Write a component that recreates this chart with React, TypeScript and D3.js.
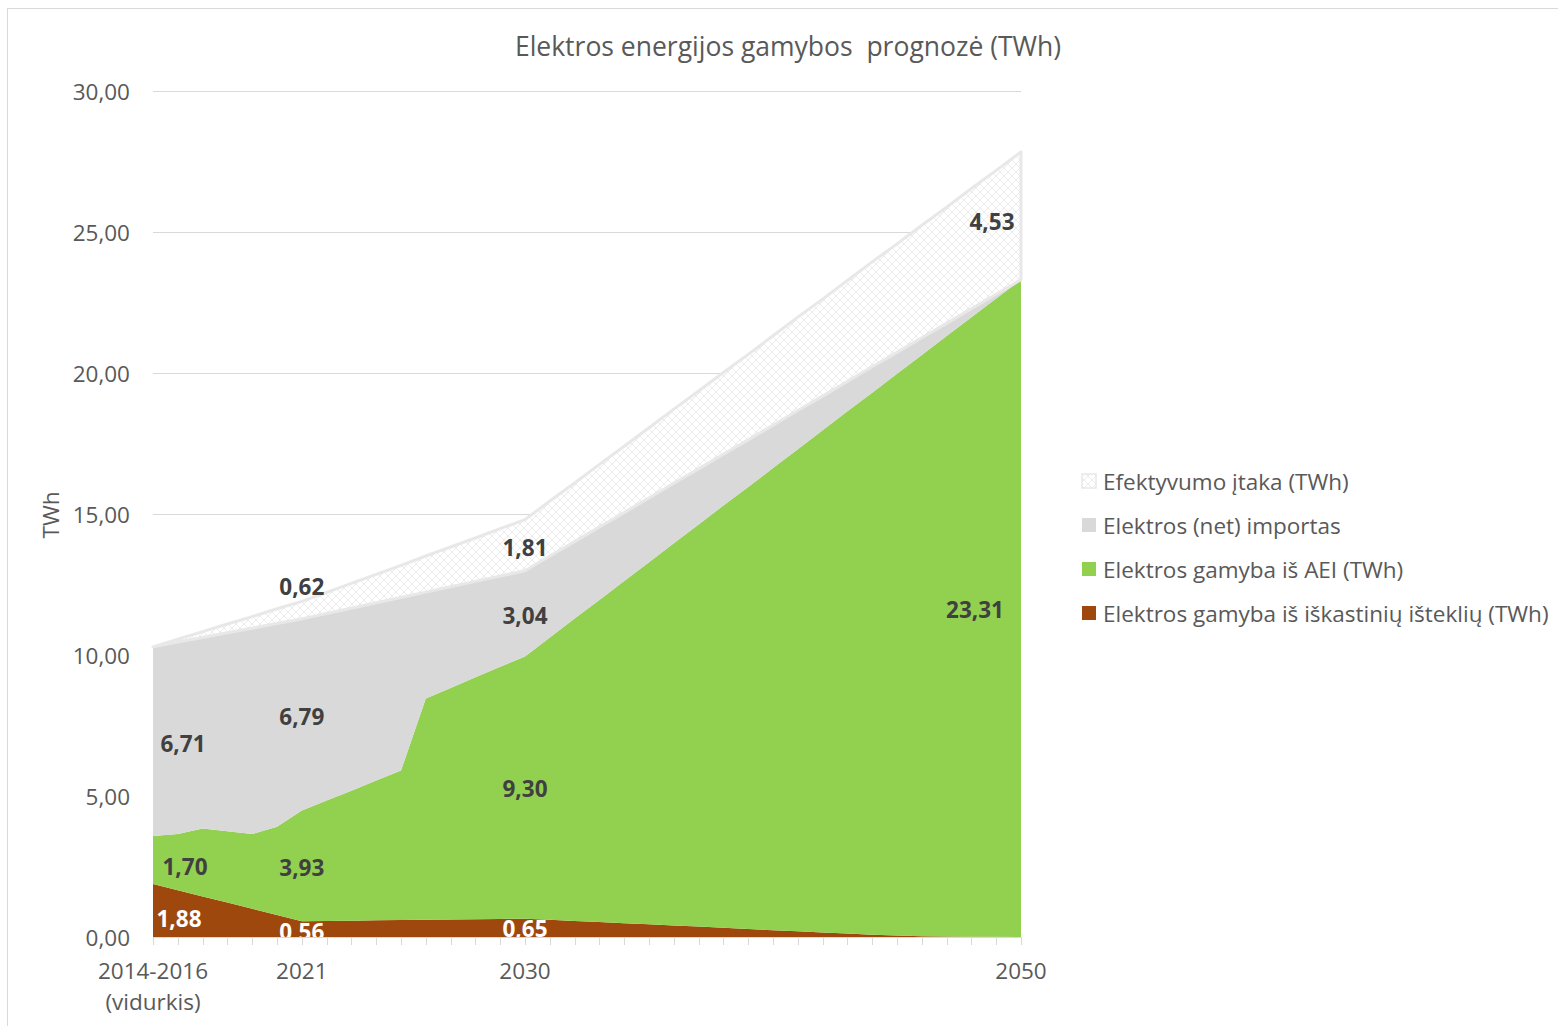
import React from "react";
import * as d3 from "d3";

// ---------- DATA ----------
const years: number[] = d3.range(2015, 2051);
const xTickLabels: { index: number; lines: string[] }[] = [
  { index: 0, lines: ["2014-2016", "(vidurkis)"] },
  { index: 6, lines: ["2021"] },
  { index: 15, lines: ["2030"] },
  { index: 35, lines: ["2050"] },
];

const fossil: number[] = [
  1.88, 1.66, 1.44, 1.22, 1.0, 0.78, 0.56, 0.57, 0.58, 0.59, 0.6, 0.61, 0.62, 0.63, 0.64, 0.65,
  0.61, 0.57, 0.53, 0.49, 0.45, 0.41, 0.37, 0.33, 0.28, 0.24, 0.2, 0.16, 0.12, 0.08, 0.05, 0.03,
  0.02, 0.01, 0.005, 0,
];
const renewable: number[] = [
  1.7, 1.99, 2.41, 2.53, 2.65, 3.13, 3.93, 4.27, 4.61, 4.96, 5.3, 7.85, 8.21, 8.58, 8.94, 9.3,
  10.01, 10.72, 11.42, 12.13, 12.84, 13.55, 14.26, 14.97, 15.68, 16.39, 17.1, 17.81, 18.52,
  19.22, 19.92, 20.61, 21.29, 21.97, 22.64, 23.31,
];
const imports: number[] = [
  6.71, 6.81, 6.77, 7.04, 7.3, 7.21, 6.79, 6.63, 6.47, 6.3, 6.14, 3.77, 3.59, 3.4, 3.22, 3.04,
  2.89, 2.73, 2.59, 2.43, 2.28, 2.13, 1.97, 1.82, 1.67, 1.52, 1.37, 1.21, 1.06, 0.92, 0.76,
  0.61, 0.45, 0.3, 0.15, 0,
];
const efficiency: number[] = [
  0, 0.1, 0.21, 0.31, 0.41, 0.52, 0.62, 0.75, 0.88, 1.01, 1.14, 1.28, 1.41, 1.54, 1.68, 1.81,
  1.95, 2.08, 2.22, 2.35, 2.49, 2.63, 2.76, 2.9, 3.03, 3.17, 3.31, 3.44, 3.58, 3.72, 3.85, 3.99,
  4.12, 4.26, 4.39, 4.53,
];

const seriesKeys = ["fossil", "renewable", "imports", "efficiency"] as const;
const seriesNames: Record<string, string> = {
  efficiency: "Efektyvumo įtaka (TWh)",
  imports: "Elektros (net) importas",
  renewable: "Elektros gamyba iš AEI (TWh)",
  fossil: "Elektros gamyba iš iškastinių išteklių (TWh)",
};
const legendOrder = ["efficiency", "imports", "renewable", "fossil"];
const yTicks: number[] = [0, 5, 10, 15, 20, 25, 30];
const labelIndices: number[] = [0, 6, 15, 35];

// ---------- STYLE ----------
const colors: Record<string, string> = {
  fossil: "#9e480e",
  renewable: "#92d050",
  imports: "#d9d9d9",
  efficiency: "url(#effPattern)",
};
const labelColors: Record<string, string> = {
  fossil: "#ffffff",
  renewable: "#404040",
  imports: "#404040",
  efficiency: "#404040",
};
// label nudges (px) per series / index
const labelNudge: Record<string, { dx: number; dy: number }> = {
  "fossil-0": { dx: 26, dy: 8 },
  "renewable-0": { dx: 32, dy: 6 },
  "imports-0": { dx: 30, dy: 2 },
  "fossil-6": { dx: 0, dy: 2 },
  "renewable-6": { dx: 0, dy: 2 },
  "imports-6": { dx: 0, dy: 2 },
  "efficiency-6": { dx: 0, dy: -24 },
  "fossil-15": { dx: 0, dy: 1 },
  "renewable-15": { dx: 0, dy: 1 },
  "imports-15": { dx: 0, dy: 2 },
  "efficiency-15": { dx: 0, dy: 2 },
  "renewable-35": { dx: -46, dy: 1 },
  "efficiency-35": { dx: -29, dy: 6 },
};

const W = 1558;
const H = 1026;
const FONT = "'Open Sans', 'Noto Sans', sans-serif";
const FS = 22.5;

export default function App() {
  const plotLeft = 153;
  const plotRight = 1021;
  const plotTop = 91;
  const plotBottom = 937;

  const x = d3.scalePoint<number>().domain(d3.range(years.length)).range([plotLeft, plotRight]);
  const y = d3.scaleLinear().domain([0, 30]).range([plotBottom, plotTop]);

  const table = years.map((yr, i) => ({
    i,
    fossil: fossil[i],
    renewable: renewable[i],
    imports: imports[i],
    efficiency: efficiency[i],
  }));
  const stack = d3.stack<any>().keys(seriesKeys as unknown as string[]);
  const stacked = stack(table);

  const area = d3
    .area<any>()
    .x((d) => x(d.data.i) as number)
    .y0((d) => y(d[0]))
    .y1((d) => y(d[1]));

  const fmt = (v: number) => v.toFixed(2).replace(".", ",");

  return (
    <svg
      width={W}
      height={H}
      style={{ position: "absolute", left: 0, top: 0, display: "block", background: "#fff" }}
    >
      <defs>
        <pattern id="effPattern" width={8} height={8} patternUnits="userSpaceOnUse">
          <rect width={8} height={8} fill="#ffffff" />
          <path d="M4,0 L8,4 L4,8 L0,4 Z" fill="none" stroke="#ebebeb" strokeWidth={1} />
          <rect x={3.5} y={3.5} width={1} height={1} fill="#f0f0f0" />
        </pattern>
        <clipPath id="plotClip">
          <rect x={plotLeft} y={plotTop - 10} width={plotRight - plotLeft} height={plotBottom - plotTop + 10} />
        </clipPath>
      </defs>

      {/* chart border */}
      <rect x={7.5} y={8.5} width={W + 10} height={H + 10} fill="none" stroke="#d9d9d9" strokeWidth={1} />

      {/* title */}
      <text
        x={788}
        y={46}
        textAnchor="middle"
        dominantBaseline="central"
        fontFamily={FONT}
        fontSize={26.5}
        fill="#595959"
        style={{ whiteSpace: "pre" }}
      >
        {"Elektros energijos gamybos  prognozė (TWh)"}
      </text>

      {/* gridlines */}
      {yTicks
        .filter((t) => t > 0)
        .map((t) => (
          <line
            key={"g" + t}
            x1={plotLeft}
            x2={plotRight}
            y1={Math.round(y(t)) + 0.5}
            y2={Math.round(y(t)) + 0.5}
            stroke="#d9d9d9"
            strokeWidth={1}
          />
        ))}

      {/* areas */}
      {stacked.map((s) => (
        <path
          key={s.key}
          d={area(s) as string}
          fill={colors[s.key]}
          stroke={s.key === "efficiency" ? "#e8e8e8" : "none"}
          strokeWidth={s.key === "efficiency" ? 3 : 0}
          strokeLinejoin="round"
        />
      ))}

      {/* x axis */}
      <line x1={plotLeft} x2={plotRight} y1={plotBottom + 0.5} y2={plotBottom + 0.5} stroke="#d9d9d9" strokeWidth={1} />
      {years.map((_, i) => (
        <line
          key={"t" + i}
          x1={Math.round(x(i) as number) + 0.5}
          x2={Math.round(x(i) as number) + 0.5}
          y1={plotBottom}
          y2={plotBottom + 8}
          stroke="#d9d9d9"
          strokeWidth={1}
        />
      ))}
      {xTickLabels.map((t) =>
        t.lines.map((ln, k) => (
          <text
            key={"xl" + t.index + k}
            x={x(t.index) as number}
            y={970 + k * 31}
            textAnchor="middle"
            dominantBaseline="central"
            fontFamily={FONT}
            fontSize={FS}
            fill="#595959"
          >
            {ln}
          </text>
        ))
      )}

      {/* y axis labels */}
      {yTicks.map((t) => (
        <text
          key={"yl" + t}
          x={130}
          y={y(t)}
          textAnchor="end"
          dominantBaseline="central"
          fontFamily={FONT}
          fontSize={FS}
          fill="#595959"
        >
          {fmt(t)}
        </text>
      ))}
      <text
        transform={`translate(50,515) rotate(-90)`}
        textAnchor="middle"
        dominantBaseline="central"
        fontFamily={FONT}
        fontSize={FS}
        fill="#595959"
      >
        TWh
      </text>

      {/* data labels */}
      <g clipPath="url(#plotClip)">
        {stacked.map((s) =>
          labelIndices.map((idx) => {
            const d = s[idx];
            const v = d[1] - d[0];
            if (v <= 0.001) return null;
            const nudge = labelNudge[s.key + "-" + idx] || { dx: 0, dy: 0 };
            return (
              <text
                key={"dl" + s.key + idx}
                x={(x(idx) as number) + nudge.dx}
                y={(y(d[0]) + y(d[1])) / 2 + nudge.dy}
                textAnchor="middle"
                dominantBaseline="central"
                fontFamily={FONT}
                fontSize={FS}
                fontWeight={700}
                fill={labelColors[s.key]}
              >
                {fmt(v)}
              </text>
            );
          })
        )}
      </g>

      {/* legend */}
      {legendOrder.map((k, j) => {
        const cy = 481 + j * 44;
        return (
          <g key={"lg" + k}>
            <rect
              x={1082}
              y={cy - 7}
              width={14}
              height={14}
              fill={colors[k]}
              stroke={k === "efficiency" ? "#e8e8e8" : "none"}
              strokeWidth={k === "efficiency" ? 1.5 : 0}
            />
            <text
              x={1103}
              y={cy}
              dominantBaseline="central"
              fontFamily={FONT}
              fontSize={FS}
              fill="#595959"
            >
              {seriesNames[k]}
            </text>
          </g>
        );
      })}
    </svg>
  );
}
